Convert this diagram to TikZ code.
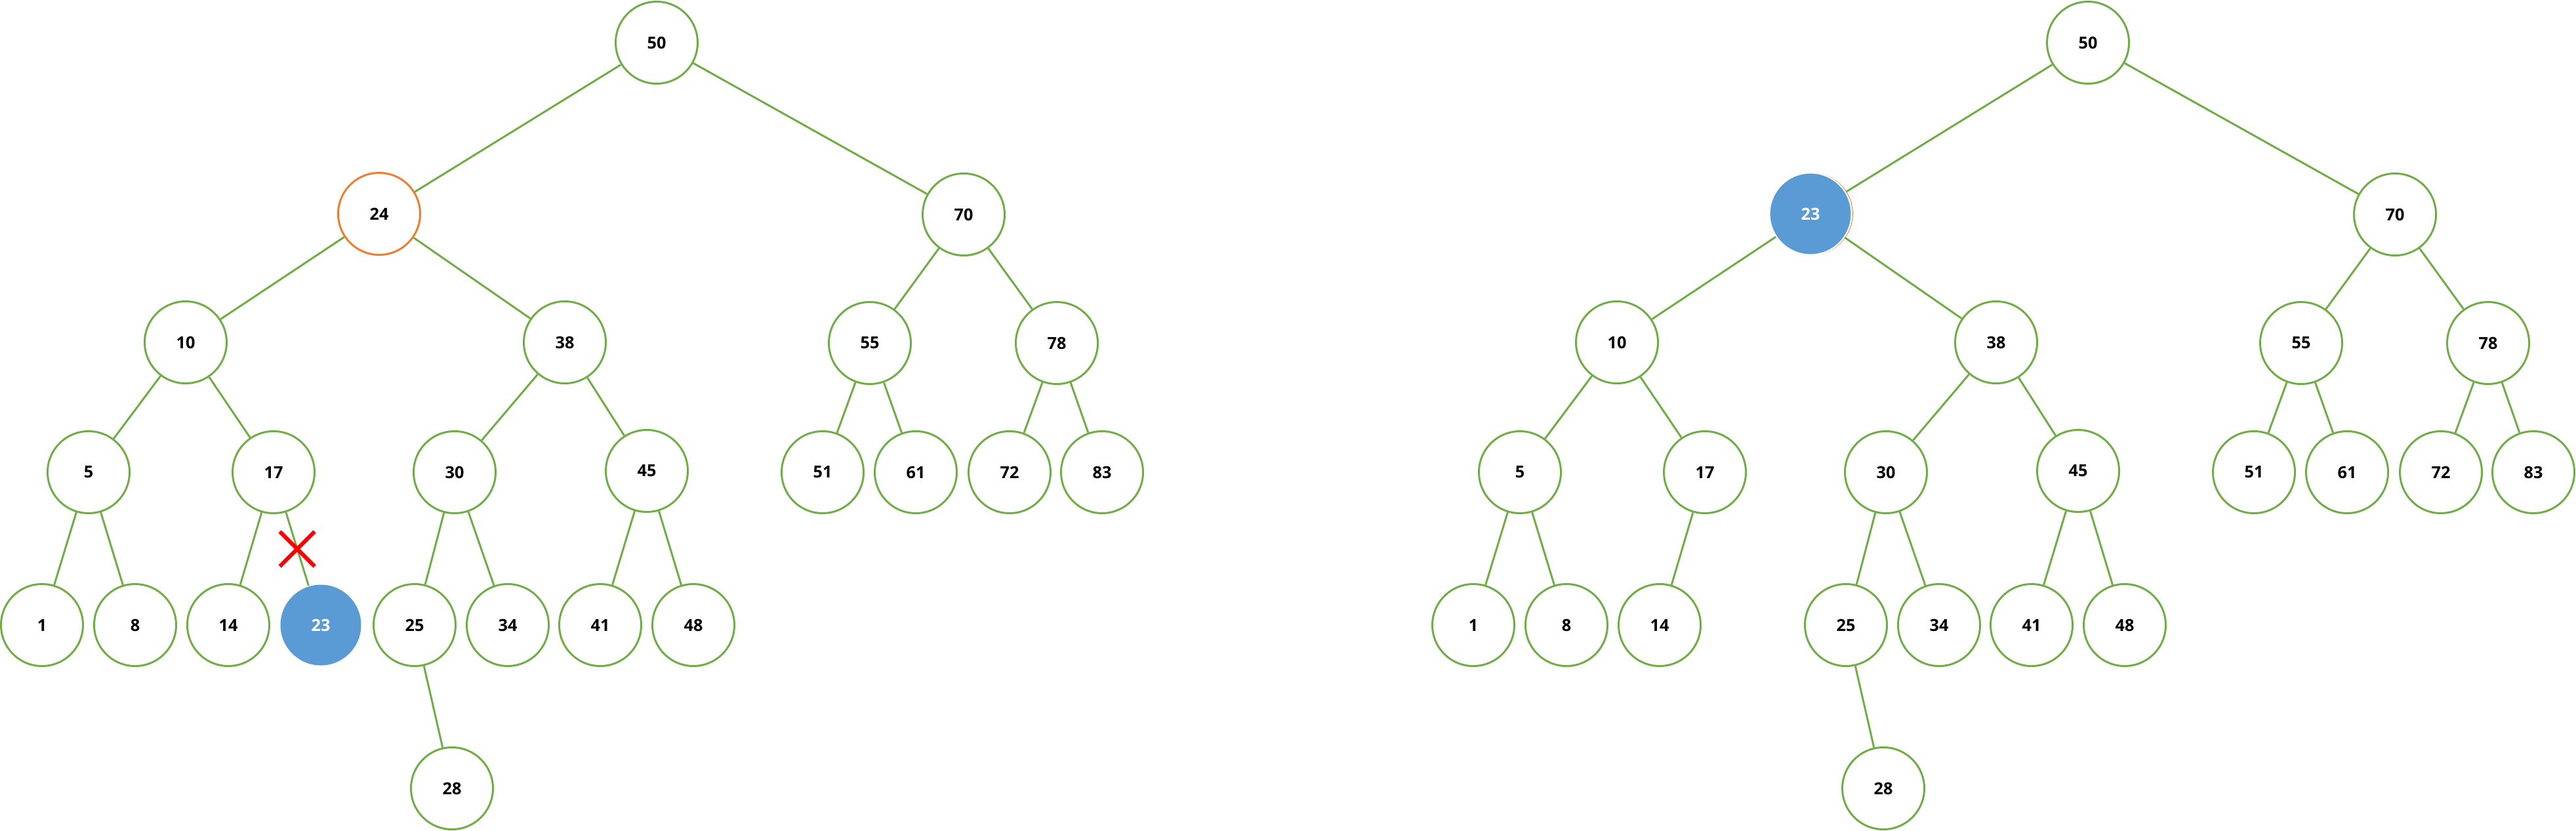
\documentclass[tikz,border=0pt]{standalone}
\usepackage{fontspec}
\setmainfont{Open Sans}
\usetikzlibrary{shapes.misc}
\definecolor{treegreen}{RGB}{112,173,71}
\definecolor{markorange}{RGB}{237,125,49}
\definecolor{keyblue}{RGB}{91,155,213}

\begin{document}
\begin{tikzpicture}[
  vtx/.style={circle,draw=treegreen,line width=0.85pt,minimum size=1.25cm,inner sep=0pt,
    font=\fontsize{7.2}{8}\selectfont\bfseries},
  marked/.style={vtx,draw=markorange},
  moved/.style={vtx,draw=none,fill=keyblue,text=white,minimum size=1.23cm},
  placed/.style={vtx,fill=keyblue,draw=white,line width=0.6pt,text=white,
    preaction={draw=markorange,line width=0.3pt,transform canvas={xshift=0.5pt}}},
  edge/.style={treegreen,line width=0.85pt},
  cut/.style={cross out,draw=red,line width=1.7pt,minimum size=0.47cm,inner sep=0pt}]
\useasboundingbox (0,0) rectangle (39.27,12.66);

% before: 24 is to be deleted
\node[vtx] at (10.01,12.01) (A50) {50};
\node[marked] at (5.78,9.40) (A24) {24};
\node[vtx] at (14.69,9.39) (A70) {70};
\node[vtx] at (2.83,7.44) (A10) {10};
\node[vtx] at (8.61,7.44) (A38) {38};
\node[vtx] at (13.26,7.43) (A55) {55};
\node[vtx] at (16.11,7.43) (A78) {78};
\node[vtx] at (1.35,5.46) (A5) {5};
\node[vtx] at (4.17,5.46) (A17) {17};
\node[vtx] at (6.93,5.46) (A30) {30};
\node[vtx] at (9.86,5.48) (A45) {45};
\node[vtx] at (12.54,5.46) (A51) {51};
\node[vtx] at (13.96,5.46) (A61) {61};
\node[vtx] at (15.39,5.46) (A72) {72};
\node[vtx] at (16.80,5.46) (A83) {83};
\node[vtx] at (0.64,3.13) (A1) {1};
\node[vtx] at (2.06,3.13) (A8) {8};
\node[vtx] at (3.48,3.13) (A14) {14};
\node[moved] at (4.89,3.13) (A23) {23};
\node[vtx] at (6.32,3.13) (A25) {25};
\node[vtx] at (7.74,3.13) (A34) {34};
\node[vtx] at (9.15,3.13) (A41) {41};
\node[vtx] at (10.57,3.13) (A48) {48};
\node[vtx] at (6.89,0.64) (A28) {28};

% after: 23 takes the place of 24
\begin{scope}[xshift=21.82cm]
\node[vtx] at (10.01,12.01) (B50) {50};
\node[placed] at (5.78,9.40) (B23) {23};
\node[vtx] at (14.69,9.39) (B70) {70};
\node[vtx] at (2.83,7.44) (B10) {10};
\node[vtx] at (8.61,7.44) (B38) {38};
\node[vtx] at (13.26,7.43) (B55) {55};
\node[vtx] at (16.11,7.43) (B78) {78};
\node[vtx] at (1.35,5.46) (B5) {5};
\node[vtx] at (4.17,5.46) (B17) {17};
\node[vtx] at (6.93,5.46) (B30) {30};
\node[vtx] at (9.86,5.48) (B45) {45};
\node[vtx] at (12.54,5.46) (B51) {51};
\node[vtx] at (13.96,5.46) (B61) {61};
\node[vtx] at (15.39,5.46) (B72) {72};
\node[vtx] at (16.80,5.46) (B83) {83};
\node[vtx] at (0.64,3.13) (B1) {1};
\node[vtx] at (2.06,3.13) (B8) {8};
\node[vtx] at (3.48,3.13) (B14) {14};
\node[vtx] at (6.32,3.13) (B25) {25};
\node[vtx] at (7.74,3.13) (B34) {34};
\node[vtx] at (9.15,3.13) (B41) {41};
\node[vtx] at (10.57,3.13) (B48) {48};
\node[vtx] at (6.89,0.64) (B28) {28};
\end{scope}

\foreach \a/\b in {50/24,24/10,24/38}
  \draw[edge] (A\a) -- (A\b);
\foreach \a/\b in {50/23,23/10,23/38}
  \draw[edge] (B\a) -- (B\b);
\foreach \t in {A,B}
  \foreach \a/\b in {50/70,70/55,70/78,10/5,10/17,38/30,38/45,55/51,55/61,78/72,78/83,5/1,5/8,17/14,30/25,30/34,45/41,45/48,25/28}
    \draw[edge] (\t\a) -- (\t\b);

\draw[edge] (A17) -- node[cut] (cut) {} (A23);
\end{tikzpicture}
\end{document}
